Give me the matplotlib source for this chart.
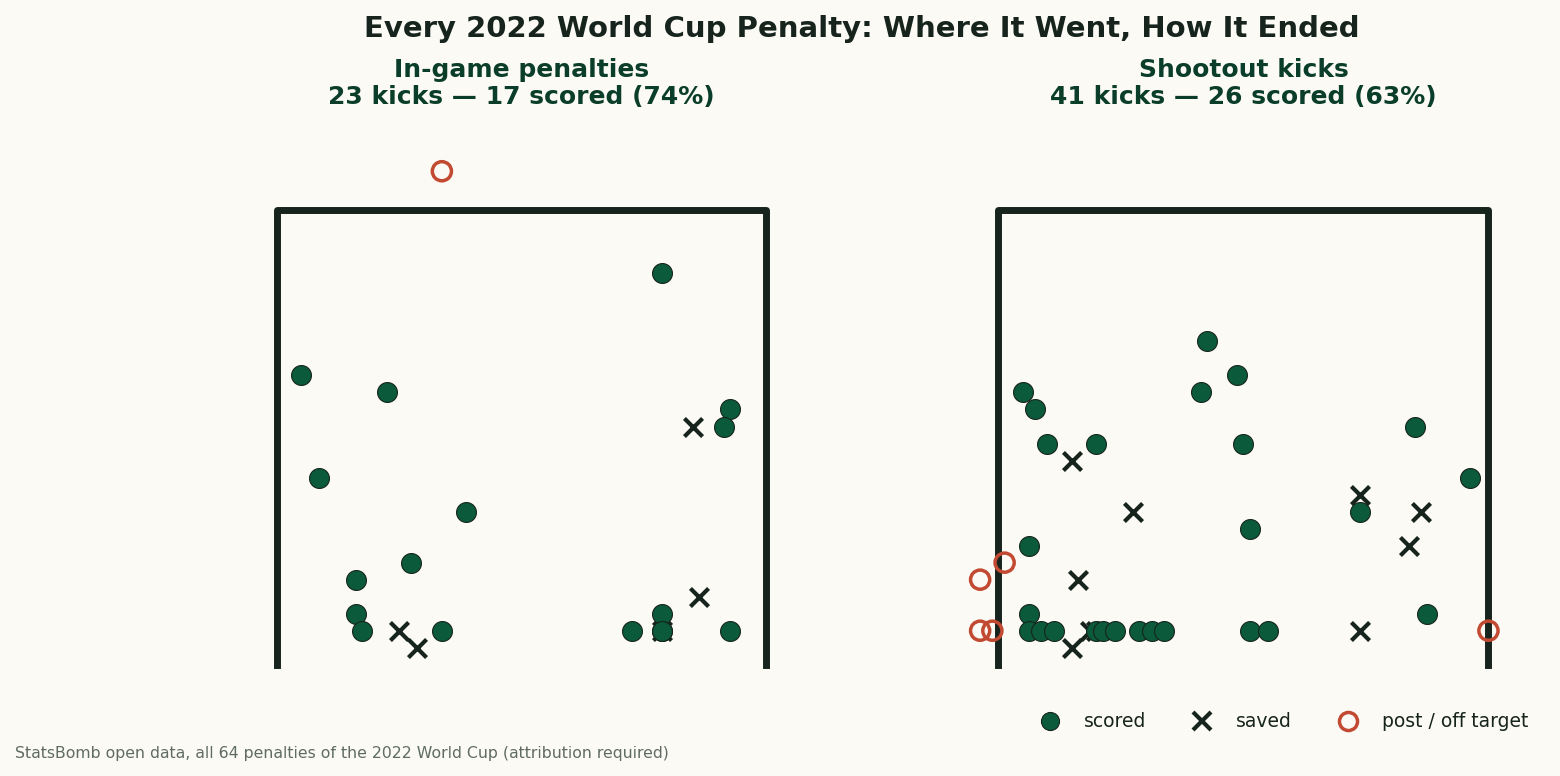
import matplotlib
matplotlib.use("Agg")
import matplotlib.pyplot as plt
from matplotlib.lines import Line2D

# end locations in StatsBomb goal units (y across the mouth 36..44, z height in yards)
ingame_scored_y = [42.3, 36.4, 37.8, 43.4, 43.3, 36.7, 39.1, 38.2, 37.3, 37.3,
                   37.4, 38.7, 41.8, 42.3, 42.3, 42.3, 43.4]
ingame_scored_z = [2.3, 1.7, 1.6, 1.5, 1.4, 1.1, 0.9, 0.6, 0.5, 0.3,
                   0.2, 0.2, 0.2, 0.3, 0.2, 0.2, 0.2]
ingame_saved_y = [42.8, 42.9, 38.0, 38.3, 42.3]
ingame_saved_z = [1.4, 0.4, 0.2, 0.1, 0.2]
ingame_missed_y = [38.7]
ingame_missed_z = [2.9]

shootout_scored_y = [39.4, 39.9, 36.4, 39.3, 36.6, 42.8, 36.8, 37.6, 40.0, 43.7,
                     41.9, 40.1, 36.5, 36.5, 43.0,
                     36.5, 36.7, 36.9, 37.6, 37.7, 37.9, 38.3, 38.5, 38.7, 40.1, 40.4]
shootout_scored_z = [1.9, 1.7, 1.6, 1.6, 1.5, 1.4, 1.3, 1.3, 1.3, 1.1,
                     0.9, 0.8, 0.7, 0.3, 0.3,
                     0.2, 0.2, 0.2, 0.2, 0.2, 0.2, 0.2, 0.2, 0.2, 0.2, 0.2]
shootout_saved_y = [37.2, 38.2, 37.3, 37.2, 41.9, 42.9, 42.7, 41.9, 37.5, 37.6]
shootout_saved_z = [1.2, 0.9, 0.5, 0.1, 1.0, 0.9, 0.7, 0.2, 0.2, 0.2]
shootout_missed_y = [36.1, 35.7, 35.7, 35.9, 44.0]
shootout_missed_z = [0.6, 0.5, 0.2, 0.2, 0.2]

BG = "#fbfaf4"
GREEN = "#0b5a3c"
DARK = "#16241d"
RED = "#c24a32"
TITLE_GREEN = "#0a3d2a"

fig = plt.figure(figsize=(15.6, 7.76), dpi=100, facecolor=BG)

panels = [
    (0.1380, "In-game penalties", ingame_scored_y, ingame_scored_z,
     ingame_saved_y, ingame_saved_z, ingame_missed_y, ingame_missed_z),
    (0.6008, "Shootout kicks", shootout_scored_y, shootout_scored_z,
     shootout_saved_y, shootout_saved_z, shootout_missed_y, shootout_missed_z),
]

for left, name, sy, sz, vy, vz, my, mz in panels:
    ax = fig.add_axes([left, 0.0995, 0.3926, 0.7237])
    ax.set_facecolor(BG)
    ax.set_xlim(35, 45)
    ax.set_ylim(-0.2, 3.1)
    ax.axis("off")

    ax.plot([36, 36, 44, 44], [0, 2.67, 2.67, 0], color=DARK, lw=5, zorder=1,
            clip_on=False)
    ax.scatter(vy, vz, marker="x", s=170, linewidths=3, color=DARK, zorder=2,
               clip_on=False)
    ax.scatter(sy, sz, marker="o", s=205, color=GREEN, edgecolors=DARK,
               linewidths=0.8, zorder=3, clip_on=False)
    ax.scatter(my, mz, marker="o", s=190, facecolors="none", edgecolors=RED,
               linewidths=2.5, zorder=4, clip_on=False)

    n = len(sy) + len(vy) + len(my)
    pct = round(100 * len(sy) / n)
    fig.text(left + 0.3926 * 0.5, 0.8924,
             f"{name}\n{n} kicks \u2014 {len(sy)} scored ({pct}%)",
             ha="center", va="center", fontsize=18, fontweight="bold",
             color=TITLE_GREEN, linespacing=1.12)

fig.text(0.5523, 0.963, "Every 2022 World Cup Penalty: Where It Went, How It Ended",
         ha="center", va="center", fontsize=21, fontweight="bold", color=DARK)

fig.text(0.0096, 0.0296,
         "StatsBomb open data, all 64 penalties of the 2022 World Cup (attribution required)",
         ha="left", va="center", fontsize=11.3, color="#5f6b64")

handles = [
    Line2D([], [], ls="none", marker="o", markersize=13, color=GREEN,
           markeredgecolor=DARK, markeredgewidth=0.8, label="scored"),
    Line2D([], [], ls="none", marker="x", markersize=13, color=DARK,
           markeredgewidth=3, label="saved"),
    Line2D([], [], ls="none", marker="o", markersize=13, markerfacecolor="none",
           markeredgecolor=RED, markeredgewidth=2.5, label="post / off target"),
]
leg = fig.legend(handles=handles, loc="center right", bbox_to_anchor=(0.9904, 0.0698),
                 ncol=3, frameon=False, fontsize=13.5, columnspacing=2.0,
                 handletextpad=0.8)
for t in leg.get_texts():
    t.set_color(DARK)

fig.savefig("out.png", dpi=100, facecolor=BG)
